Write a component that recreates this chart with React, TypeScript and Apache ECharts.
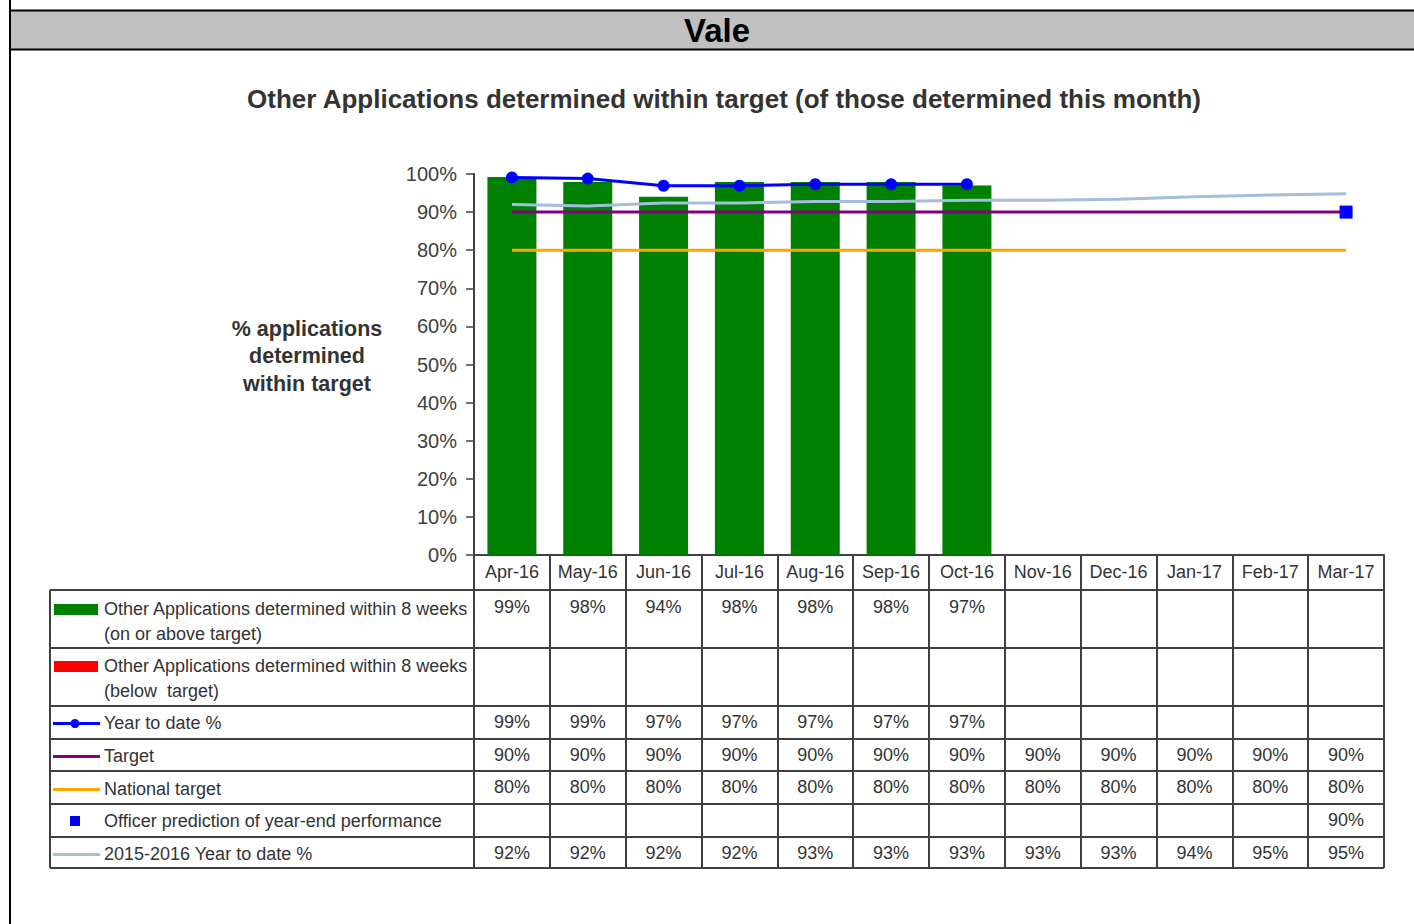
import React, { useEffect, useRef } from "react";
import * as echarts from "echarts";

const months = ["Apr-16", "May-16", "Jun-16", "Jul-16", "Aug-16", "Sep-16", "Oct-16", "Nov-16", "Dec-16", "Jan-17", "Feb-17", "Mar-17"];
const onAboveTarget: (number | null)[] = [99.2, 97.9, 94.0, 97.9, 97.9, 97.9, 97.0, null, null, null, null, null];
const belowTarget: (number | null)[] = [null, null, null, null, null, null, null, null, null, null, null, null];
const yearToDate: (number | null)[] = [99.1, 98.8, 96.9, 96.9, 97.3, 97.3, 97.3, null, null, null, null, null];
const targetVals: (number | null)[] = [90, 90, 90, 90, 90, 90, 90, 90, 90, 90, 90, 90];
const nationalTarget: (number | null)[] = [80, 80, 80, 80, 80, 80, 80, 80, 80, 80, 80, 80];
const officerPrediction: (number | null)[] = [null, null, null, null, null, null, null, null, null, null, null, 90];
const prevYearToDate: (number | null)[] = [92.0, 91.6, 92.4, 92.4, 92.8, 92.8, 93.1, 93.1, 93.4, 94.0, 94.5, 94.8];

const FONT = "'Liberation Sans', Arial, sans-serif";
const TXT = "#333333";
const LINE = "#404040";

// layout
const W = 1414;
const H = 924;
const PLOT_L = 474;
const PLOT_R = 1384;
const PLOT_T = 174;
const PLOT_B = 555;
const TABLE_L = 50;
const TABLE_B = 868;
const rowEdges = [590, 648, 706, 739, 771, 804, 837, 868];
const rowCenters = [607, 665, 722, 755, 787, 820, 853];

const fmt = (v: number | null) => (v == null ? "" : Math.round(v) + "%");

export default function App() {
  const ref = useRef<HTMLDivElement>(null);
  useEffect(() => {
    if (!ref.current) return;
    const chart = echarts.init(ref.current, null, { renderer: "svg" });

    const tableRows = [onAboveTarget, belowTarget, yearToDate, targetVals, nationalTarget, officerPrediction, prevYearToDate];
    const rowAxes = tableRows.map((row, i) => ({
      type: "category",
      gridIndex: 0,
      position: "bottom",
      data: row.map(fmt),
      axisLine: { show: false },
      axisTick: { show: false },
      splitLine: { show: false },
      axisLabel: {
        interval: 0,
        margin: rowCenters[i] - PLOT_B,
        verticalAlign: "middle",
        fontSize: 18,
        fontFamily: FONT,
        color: TXT,
      },
    }));

    const graphics: any[] = [];
    // header band
    graphics.push({ type: "rect", shape: { x: 10, y: 11, width: W - 10, height: 38 }, style: { fill: "#c0c0c0" }, silent: true });
    graphics.push({ type: "line", shape: { x1: 10, y1: 10.5, x2: W, y2: 10.5 }, style: { stroke: "#000", lineWidth: 2 } });
    graphics.push({ type: "line", shape: { x1: 10, y1: 49.5, x2: W, y2: 49.5 }, style: { stroke: "#000", lineWidth: 2 } });
    graphics.push({ type: "line", shape: { x1: 10, y1: 0, x2: 10, y2: H }, style: { stroke: "#000", lineWidth: 2 } });
    graphics.push({
      type: "text", x: 717, y: 30,
      style: { text: "Vale", fontSize: 33, fontWeight: "bold", fontFamily: FONT, fill: "#000", align: "center", verticalAlign: "middle" },
    });
    graphics.push({
      type: "text", x: 724, y: 99,
      style: { text: "Other Applications determined within target (of those determined this month)", fontSize: 26, fontWeight: "bold", fontFamily: FONT, fill: TXT, align: "center", verticalAlign: "middle" },
    });
    graphics.push({
      type: "text", x: 307, y: 356,
      style: { text: "% applications\ndetermined\nwithin target", fontSize: 21.5, fontWeight: "bold", fontFamily: FONT, fill: TXT, align: "center", verticalAlign: "middle", lineHeight: 27.5 },
    });
    // table borders
    rowEdges.forEach((y) => {
      graphics.push({ type: "line", shape: { x1: TABLE_L, y1: y, x2: PLOT_R, y2: y }, style: { stroke: LINE, lineWidth: 2 } });
    });
    graphics.push({ type: "line", shape: { x1: TABLE_L, y1: rowEdges[0], x2: TABLE_L, y2: TABLE_B }, style: { stroke: LINE, lineWidth: 2 } });

    // legend column
    const legendText = (x: number, y: number, t: string) =>
      graphics.push({ type: "text", x, y, style: { text: t, fontSize: 18, fontFamily: FONT, fill: TXT, verticalAlign: "middle" } });
    graphics.push({ type: "rect", shape: { x: 54, y: 604, width: 44, height: 11 }, style: { fill: "#008000" } });
    legendText(104, 609, "Other Applications determined within 8 weeks");
    legendText(104, 634, "(on or above target)");
    graphics.push({ type: "rect", shape: { x: 54, y: 661, width: 44, height: 11 }, style: { fill: "#ff0000" } });
    legendText(104, 666, "Other Applications determined within 8 weeks");
    legendText(104, 691, "(below  target)");
    graphics.push({ type: "line", shape: { x1: 53, y1: 723.5, x2: 100, y2: 723.5 }, style: { stroke: "#0000ff", lineWidth: 3 } });
    graphics.push({ type: "circle", shape: { cx: 75, cy: 723.5, r: 4.5 }, style: { fill: "#0000ff" } });
    legendText(104, 723, "Year to date %");
    graphics.push({ type: "line", shape: { x1: 53, y1: 756.5, x2: 100, y2: 756.5 }, style: { stroke: "#800080", lineWidth: 3 } });
    legendText(104, 756, "Target");
    graphics.push({ type: "line", shape: { x1: 53, y1: 789.5, x2: 100, y2: 789.5 }, style: { stroke: "#ffa500", lineWidth: 3 } });
    legendText(104, 789, "National target");
    graphics.push({ type: "rect", shape: { x: 70, y: 816, width: 10, height: 10 }, style: { fill: "#0000ff" } });
    legendText(104, 821, "Officer prediction of year-end performance");
    graphics.push({ type: "line", shape: { x1: 53, y1: 854.5, x2: 100, y2: 854.5 }, style: { stroke: "#a3bde0", lineWidth: 3 } });
    legendText(104, 854, "2015-2016 Year to date %");

    chart.setOption({
      animation: false,
      backgroundColor: "#ffffff",
      grid: { left: PLOT_L, right: W - PLOT_R, top: PLOT_T, bottom: H - PLOT_B, containLabel: false },
      xAxis: [
        {
          type: "category",
          gridIndex: 0,
          position: "bottom",
          data: months,
          boundaryGap: true,
          axisLine: { show: true, lineStyle: { color: LINE, width: 2 } },
          axisTick: { show: true, interval: 0, length: TABLE_B - PLOT_B, lineStyle: { color: LINE, width: 2 } },
          axisLabel: { interval: 0, margin: 17, verticalAlign: "middle", fontSize: 18, fontFamily: FONT, color: TXT },
          splitLine: { show: false },
        },
        ...rowAxes,
      ],
      yAxis: {
        type: "value",
        min: 0,
        max: 100,
        interval: 10,
        axisLine: { show: true, lineStyle: { color: LINE, width: 2 } },
        axisTick: { show: true, length: 8, lineStyle: { color: LINE, width: 1.5 } },
        axisLabel: { formatter: "{value}%", fontSize: 20, fontFamily: FONT, color: LINE, margin: 17 },
        splitLine: { show: false },
      },
      series: [
        { name: "on or above", type: "bar", data: onAboveTarget, barWidth: 49, barGap: "-100%", itemStyle: { color: "#008000" }, z: 2 },
        { name: "below", type: "bar", data: belowTarget, barWidth: 49, itemStyle: { color: "#ff0000" }, z: 2 },
        { name: "prev", type: "line", data: prevYearToDate, symbol: "none", lineStyle: { color: "#a3bde0", width: 3 }, itemStyle: { color: "#a3bde0" }, z: 3 },
        { name: "target", type: "line", data: targetVals, symbol: "none", lineStyle: { color: "#800080", width: 3 }, itemStyle: { color: "#800080" }, z: 4 },
        { name: "national", type: "line", data: nationalTarget, symbol: "none", lineStyle: { color: "#ffa500", width: 3 }, itemStyle: { color: "#ffa500" }, z: 4 },
        { name: "ytd", type: "line", data: yearToDate, symbol: "circle", symbolSize: 12, lineStyle: { color: "#0000ff", width: 3 }, itemStyle: { color: "#0000ff" }, z: 5 },
        { name: "officer", type: "line", data: officerPrediction, symbol: "rect", symbolSize: 13, lineStyle: { width: 0 }, itemStyle: { color: "#0000ff" }, z: 6 },
      ],
      graphic: graphics,
    });
    return () => chart.dispose();
  }, []);
  return <div ref={ref} style={{ position: "absolute", left: 0, top: 0, width: W, height: H }} />;
}
